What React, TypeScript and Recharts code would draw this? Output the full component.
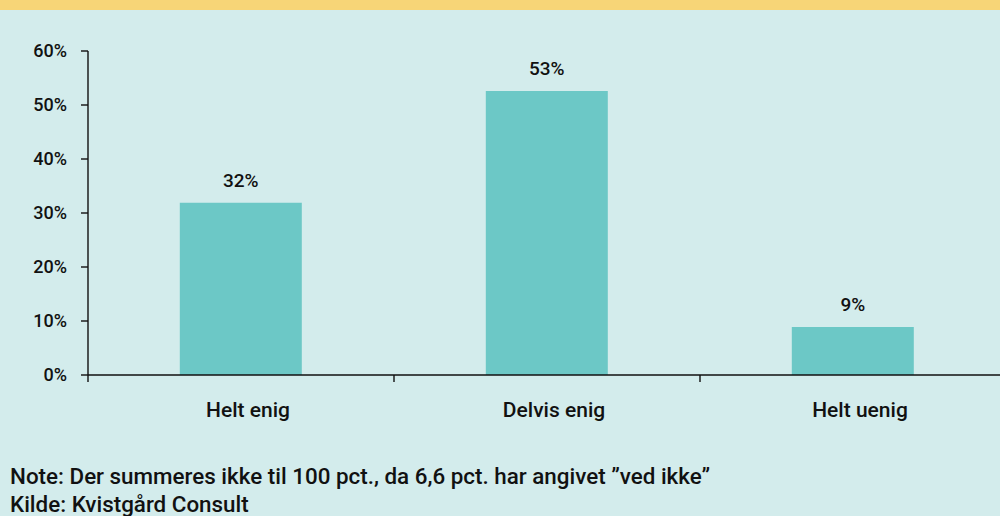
import { BarChart, Bar, XAxis, YAxis, LabelList } from 'recharts'

const categories = ['Helt enig', 'Delvis enig', 'Helt uenig']
const shares = [31.9, 52.6, 8.9]
const yTicks = [0, 10, 20, 30, 40, 50, 60]

const BG = '#d3ecec'
const BAR = '#6cc8c6'
const INK = '#111111'
const FONT = 'Roboto, "Noto Sans", sans-serif'

const data = categories.map((name, i) => ({ name, value: shares[i] }))

// category label plus the small tick marks that sit on the category boundaries
function CategoryTick(props: any) {
  const { x, y, payload, index } = props
  const half = payload.offset ?? 0
  const axisY = y - 7
  return (
    <g>
      {index === 0 && (
        <line x1={x - half} x2={x - half} y1={axisY} y2={axisY + 7} stroke={INK} strokeWidth={1.4} />
      )}
      <line x1={x + half} x2={x + half} y1={axisY} y2={axisY + 7} stroke={INK} strokeWidth={1.4} />
      <text
        x={x + 7}
        y={axisY + 35}
        dy="0.35em"
        textAnchor="middle"
        fill={INK}
        fontSize={21}
        fontWeight={500}
        fontFamily={FONT}
      >
        {payload.value}
      </text>
    </g>
  )
}

export default function App() {
  return (
    <div
      style={{
        position: 'absolute',
        top: 0,
        left: 0,
        width: 1000,
        height: 516,
        background: BG,
        fontFamily: FONT,
        overflow: 'hidden',
      }}
    >
      <div style={{ position: 'absolute', top: 0, left: 0, width: 1000, height: 10, background: '#f7d577' }} />
      <BarChart
        width={1006}
        height={516}
        data={data}
        margin={{ top: 51, right: 0, bottom: 105, left: 0 }}
        barCategoryGap="30%"
      >
        <XAxis
          dataKey="name"
          axisLine={{ stroke: INK, strokeWidth: 1.4 }}
          tickLine={false}
          tickSize={7}
          tickMargin={0}
          height={36}
          interval={0}
          tick={<CategoryTick />}
        />
        <YAxis
          width={88}
          domain={[0, 60]}
          ticks={yTicks}
          interval={0}
          tickFormatter={(v) => `${v}%`}
          tickSize={7}
          axisLine={{ stroke: INK, strokeWidth: 1.4 }}
          tickLine={{ stroke: INK, strokeWidth: 1.4 }}
          tick={{ fill: INK, fontSize: 18, fontWeight: 500, fontFamily: FONT }}
          tickMargin={14}
        />
        <Bar dataKey="value" fill={BAR} isAnimationActive={false}>
          <LabelList
            dataKey="value"
            position="top"
            offset={16}
            formatter={(v: number) => `${Math.round(v)}%`}
            style={{ fill: INK, fontSize: 19, fontWeight: 500, fontFamily: FONT }}
          />
        </Bar>
      </BarChart>
      <div
        style={{
          position: 'absolute',
          left: 10,
          top: 462,
          color: INK,
          fontSize: 22.4,
          fontWeight: 500,
          lineHeight: '28px',
        }}
      >
        <div>Note: Der summeres ikke til 100 pct., da 6,6 pct. har angivet ”ved ikke”</div>
        <div>Kilde: Kvistgård Consult</div>
      </div>
    </div>
  )
}
